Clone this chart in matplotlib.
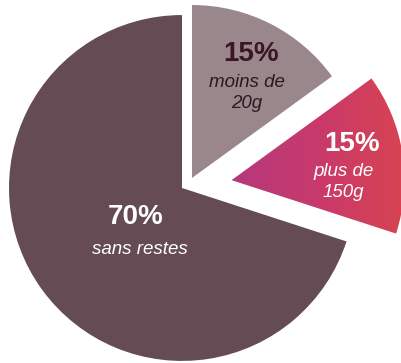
import matplotlib.pyplot as plt
import numpy as np
from matplotlib.colors import LinearSegmentedColormap

# slice data (order: clockwise from 12 o'clock)
shares = [15, 15, 70]
pct_labels = ['15%', '15%', '70%']
sub_labels = ['moins de\n20g', 'plus de\n150g', 'sans restes']
colors = ['#9a878c', '#c73b6e', '#654b54']
explode = [0.08, 0.29, 0.0]

fig = plt.figure(figsize=(4.01, 3.63), dpi=100)
ax = fig.add_axes([0, 0, 1, 1])
ax.set_xlim(-1.052, 1.266)
ax.set_ylim(-1.012, 1.087)
ax.set_aspect('equal')
ax.axis('off')

wedges, _ = ax.pie(shares, colors=colors, explode=explode, startangle=90,
                   counterclock=False, radius=1.0,
                   wedgeprops=dict(linewidth=0))

# nudge gray slice a bit sideways like the original
wedges[0].set_center((0.058, 0.058))

# gradient fill for the "plus de 150g" slice
grad_cmap = LinearSegmentedColormap.from_list('pk', ['#b5387d', '#c93a6a', '#d8444f'])
grad = np.linspace(0, 1, 256).reshape(1, -1)
wedges[1].set_facecolor('none')
im = ax.imshow(grad, cmap=grad_cmap, extent=[0.29, 1.32, -0.35, 0.75],
               aspect='auto', zorder=wedges[1].get_zorder())
im.set_clip_path(wedges[1])
ax.set_xlim(-1.052, 1.266)
ax.set_ylim(-1.012, 1.087)

font = 'Liberation Sans'
# label positions (data coords) per slice
pct_pos = [(0.399, 0.775), (0.983, 0.255), (-0.266, -0.168)]
sub_pos = [(0.376, 0.549), (0.934, 0.036), (-0.243, -0.353)]
pct_col = ['#3a1626', 'white', 'white']
sub_col = ['#2a1a20', 'white', 'white']

for i in range(3):
    ax.text(*pct_pos[i], pct_labels[i], ha='center', va='center',
            fontsize=20, fontweight='bold', color=pct_col[i], family=font)
    ax.text(*sub_pos[i], sub_labels[i], ha='center', va='center',
            fontsize=13.5, style='italic', color=sub_col[i], family=font,
            linespacing=1.3)

fig.savefig('out.png', dpi=100)
